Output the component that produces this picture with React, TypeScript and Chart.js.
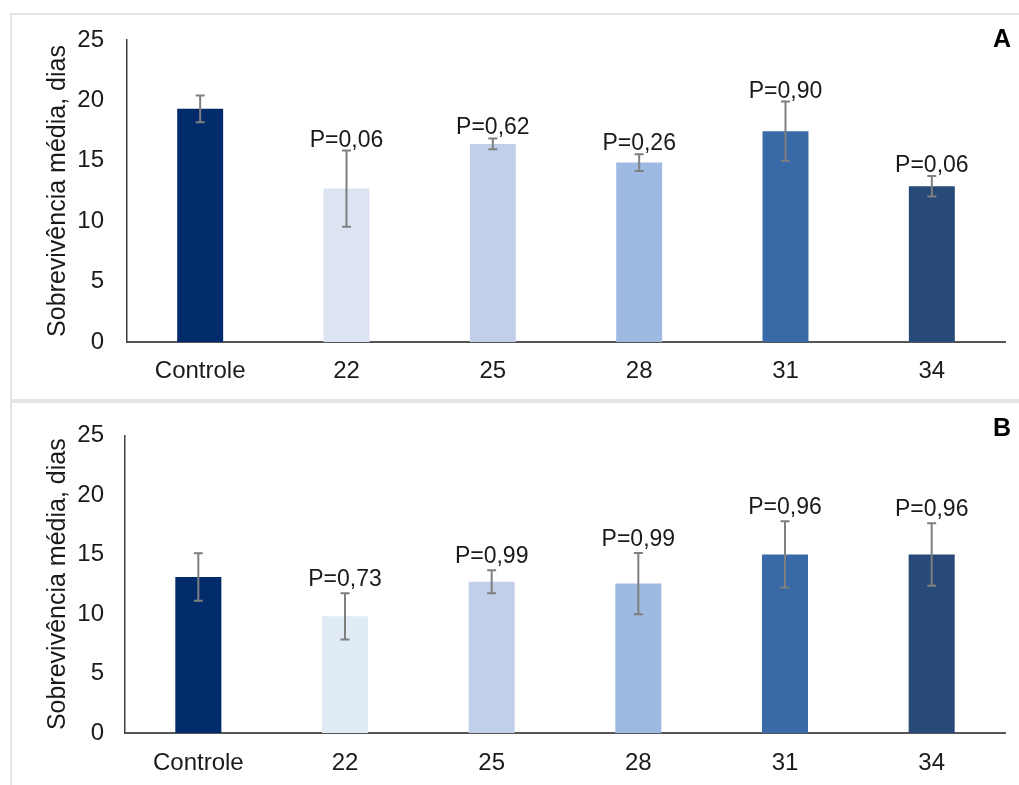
import React, { useEffect, useRef } from 'react';
import { Chart, registerables } from 'chart.js';

Chart.register(...registerables);

const categories = ['Controle', '22', '25', '28', '31', '34'];
const yTickValues = [0, 5, 10, 15, 20, 25];
const yAxisTitle = 'Sobrevivência média, dias';

const meansA = [19.3, 12.7, 16.4, 14.85, 17.45, 12.9];
const errorsA = [1.1, 3.15, 0.45, 0.7, 2.45, 0.85];
const pLabelsA = ['', 'P=0,06', 'P=0,62', 'P=0,26', 'P=0,90', 'P=0,06'];
const colorsA = ['#022b6b', '#dce3f1', '#c1cfea', '#9fbae2', '#3a69a7', '#274a79'];

const meansB = [13.1, 9.8, 12.7, 12.55, 15.0, 15.0];
const errorsB = [2.0, 1.95, 0.97, 2.58, 2.78, 2.63];
const pLabelsB = ['', 'P=0,73', 'P=0,99', 'P=0,99', 'P=0,96', 'P=0,96'];
const colorsB = ['#022b6b', '#e0ebf6', '#c1cfea', '#9fbae2', '#3a69a7', '#274a79'];

const FONT = "'Liberation Sans', Arial, Helvetica, sans-serif";

type PanelProps = {
  means: number[];
  errors: number[];
  labels: string[];
  colors: string[];
  letter: string;
  top: number;
  height: number;
  padTop: number;
  xAxisHeight: number;
  xTickPad: number;
  yAxisWidth: number;
  yTickPad: number;
  labelOffset: number;
  letterBaseline: number;
};

function Panel(p: PanelProps) {
  const ref = useRef<HTMLCanvasElement | null>(null);
  useEffect(() => {
    if (!ref.current) return;
    const errPlugin = {
      id: 'errAndLabels',
      afterDatasetsDraw(chart: any) {
        const { ctx, scales } = chart;
        const y = scales.y;
        const meta = chart.getDatasetMeta(0);
        ctx.save();
        p.means.forEach((m, i) => {
          const cx = meta.data[i].x;
          const top = y.getPixelForValue(m + p.errors[i]);
          const bot = y.getPixelForValue(m - p.errors[i]);
          ctx.strokeStyle = '#7f7f7f';
          ctx.lineWidth = 2;
          ctx.beginPath();
          ctx.moveTo(cx, top);
          ctx.lineTo(cx, bot);
          ctx.moveTo(cx - 4.5, top);
          ctx.lineTo(cx + 4.5, top);
          ctx.moveTo(cx - 4.5, bot);
          ctx.lineTo(cx + 4.5, bot);
          ctx.stroke();
        });
        p.means.forEach((m, i) => {
          const lbl = p.labels[i];
          if (!lbl) return;
          const cx = meta.data[i].x;
          const top = y.getPixelForValue(m + p.errors[i]);
          ctx.fillStyle = '#1a1a1a';
          ctx.font = `23px ${FONT}`;
          ctx.textAlign = 'center';
          ctx.textBaseline = 'alphabetic';
          ctx.fillText(lbl, cx, top - p.labelOffset);
        });
        ctx.fillStyle = '#000';
        ctx.font = `bold 25px ${FONT}`;
        ctx.textAlign = 'left';
        ctx.textBaseline = 'alphabetic';
        ctx.fillText(p.letter, 993, p.letterBaseline);
        ctx.restore();
      },
    };
    const chart = new Chart(ref.current, {
      type: 'bar',
      data: {
        labels: categories,
        datasets: [
          {
            data: p.means,
            backgroundColor: p.colors,
            borderWidth: 0,
            categoryPercentage: 1,
            barPercentage: 0.314,
          },
        ],
      },
      options: {
        animation: false,
        responsive: false,
        maintainAspectRatio: false,
        layout: { padding: { top: p.padTop, right: 14, left: 0, bottom: 0 } },
        plugins: {
          legend: { display: false },
          tooltip: { enabled: false },
          title: { display: false },
        },
        scales: {
          x: {
            grid: { display: false, drawTicks: false },
            border: { display: true, color: '#555555', width: 2 },
            ticks: { color: '#1a1a1a', font: { family: FONT, size: 24 }, padding: p.xTickPad },
            afterFit: (s: any) => {
              s.height = p.xAxisHeight;
            },
          },
          y: {
            min: 0,
            max: 25,
            afterBuildTicks: (s: any) => {
              s.ticks = yTickValues.map((v) => ({ value: v }));
            },
            grid: { display: false, drawTicks: false },
            border: { display: true, color: '#404040', width: 1.5 },
            ticks: { color: '#1a1a1a', font: { family: FONT, size: 24 }, padding: p.yTickPad },
            title: {
              display: true,
              text: yAxisTitle,
              color: '#1a1a1a',
              font: { family: FONT, size: 25 },
              padding: { top: 43, bottom: 0 },
            },
            afterFit: (s: any) => {
              s.width = p.yAxisWidth;
            },
          },
        },
      },
      plugins: [errPlugin],
    });
    return () => chart.destroy();
  }, []);
  return (
    <canvas
      ref={ref}
      width={1019}
      height={p.height}
      style={{ position: 'absolute', left: 0, top: p.top, width: 1019, height: p.height }}
    />
  );
}

export default function App() {
  return (
    <div
      style={{
        position: 'absolute',
        left: 0,
        top: 0,
        width: 1019,
        height: 785,
        overflow: 'hidden',
        background: '#ffffff',
      }}
    >
      <div
        style={{
          position: 'absolute',
          left: 10,
          top: 13,
          width: 1100,
          height: 388,
          boxSizing: 'border-box',
          border: '2px solid #e4e4e4',
        }}
      />
      <div
        style={{
          position: 'absolute',
          left: 10,
          top: 401,
          width: 1100,
          height: 500,
          boxSizing: 'border-box',
          border: '2px solid #e4e4e4',
        }}
      />
      <Panel
        means={meansA}
        errors={errorsA}
        labels={pLabelsA}
        colors={colorsA}
        letter="A"
        top={0}
        height={400}
        padTop={40}
        xAxisHeight={58}
        xTickPad={15}
        yAxisWidth={127}
        yTickPad={23}
        labelOffset={4}
        letterBaseline={47}
      />
      <Panel
        means={meansB}
        errors={errorsB}
        labels={pLabelsB}
        colors={colorsB}
        letter="B"
        top={400}
        height={385}
        padTop={29}
        xAxisHeight={52}
        xTickPad={16}
        yAxisWidth={125}
        yTickPad={21}
        labelOffset={7}
        letterBaseline={36}
      />
    </div>
  );
}
